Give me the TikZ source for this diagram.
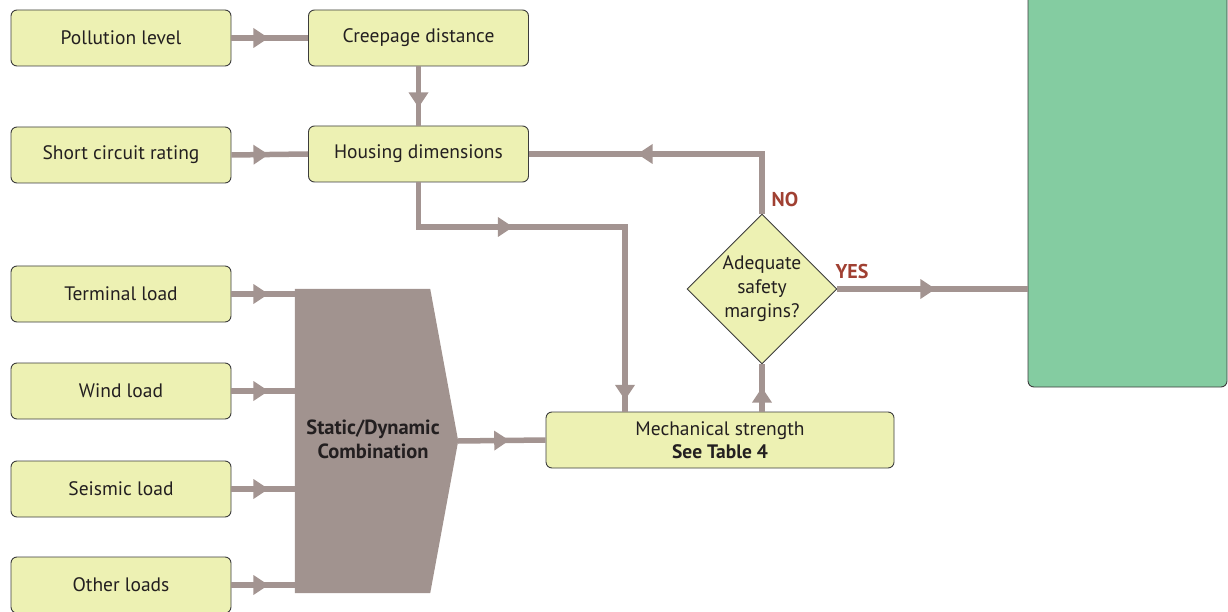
\documentclass[tikz,border=0pt]{standalone}
\usepackage{fontspec}
\setmainfont{PT Sans}
\usetikzlibrary{arrows.meta,decorations.markings,shapes.geometric,calc}
\definecolor{boxfill}{RGB}{237,241,179}
\definecolor{boxline}{RGB}{60,60,60}
\definecolor{flowcol}{RGB}{163,148,145}
\definecolor{sdcfill}{RGB}{161,147,143}
\definecolor{labred}{RGB}{160,64,50}
\definecolor{greenfill}{RGB}{132,204,161}
\definecolor{txt}{RGB}{35,31,32}
\begin{document}
\begin{tikzpicture}[x=1pt,y=-1pt,
  inbox/.style={rectangle, rounded corners=6pt, draw=boxline, line width=0.9pt, fill=boxfill,
    minimum width=220pt, minimum height=56pt, inner sep=0pt, text=txt,
    font=\fontsize{19.5}{23.5}\selectfont, align=center},
  flow/.style={draw=flowcol, line width=5.5pt},
  tipat/.style={postaction={decorate,decoration={markings,
    mark=at position #1 with {\fill[flowcol] (0,0) -- (-15pt,10pt) -- (-15pt,-10pt) -- cycle;}}}},
  lab/.style={font=\fontsize{20}{22}\selectfont\bfseries, text=labred}
]
\useasboundingbox (0,0) rectangle (1228,612);

% nodes
\node[inbox] (pol) at (121,38) {Pollution level};
\node[inbox] (cre) at (418.5,38) {Creepage distance};
\node[inbox] (sho) at (121,155) {Short circuit rating};
\node[inbox] (hou) at (418.5,154) {Housing dimensions};
\node[inbox] (ter) at (121,294) {Terminal load};
\node[inbox] (win) at (121,391) {Wind load};
\node[inbox] (sei) at (121,489) {Seismic load};
\node[inbox] (oth) at (121,585) {Other loads};
\node[inbox, minimum width=348pt] (mec) at (720,440) {Mechanical strength\\\textbf{See Table 4}};
\node[diamond, draw=boxline, line width=0.9pt, fill=boxfill, minimum width=150pt, minimum height=150pt,
  inner sep=0pt, text=txt, font=\fontsize{19.5}{24}\selectfont, align=center] (dia) at (762,289)
  {Adequate\\safety\\margins?};
\node[rectangle, rounded corners=6pt, draw=boxline, line width=0.9pt, fill=greenfill,
  minimum width=199pt, minimum height=402pt, inner sep=0pt] (grn) at (1127.5,186) {};

% static/dynamic combination shape
\node[minimum width=135pt, minimum height=304pt, inner sep=0pt] (sdc) at (362.5,441) {};
\coordinate (sdctip) at ($(sdc.east)+(28,0)$);
\fill[sdcfill] (sdc.north west) -- (sdc.north east) -- (sdctip) -- (sdc.south east) -- (sdc.south west) -- cycle;
\node[font=\fontsize{20.5}{24}\selectfont\bfseries, text=txt, align=center] (sdct) at (373,439) {Static/Dynamic\\Combination};

% connectors
\path[flow, tipat=37pt] (pol.east) -- (cre.west);
\path[flow, tipat=41pt] (cre.south) -- (hou.north);
\path[flow, tipat=37pt] (sho.east) -- (hou.west);
\coordinate (j1) at (625,227);
\path[flow, tipat=139pt, tipat=424pt] (hou.south) |- (j1) -- (j1 |- mec.north);
\path[flow, tipat=37pt] (ter.east) -- (ter.east -| sdc.west);
\path[flow, tipat=37pt] (win.east) -- (win.east -| sdc.west);
\path[flow, tipat=37pt] (sei.east) -- (sei.east -| sdc.west);
\path[flow, tipat=37pt] (oth.east) -- (oth.east -| sdc.west);
\path[flow, tipat=51pt] (sdctip) -- (mec.west);
\path[flow, tipat=24pt] (dia.south |- mec.north) -- (dia.south);
\path[flow, tipat=184pt] (dia.north) |- (hou.east);
\path[flow, tipat=98pt] (dia.east) -- (dia.east -| grn.west);

% labels
\node[lab] (no) at (785,200) {NO};
\node[lab] (yes) at (852,272) {YES};
\end{tikzpicture}
\end{document}
